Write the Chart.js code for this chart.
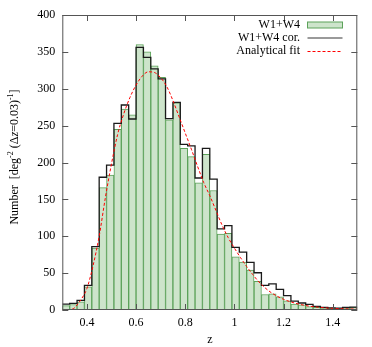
<!DOCTYPE html>
<html><head><meta charset="utf-8">
<script src="https://cdn.jsdelivr.net/npm/chart.js@4.4.0/dist/chart.umd.min.js"></script>
<style>html,body{margin:0;padding:0;background:#fff;}#wrap{width:372px;height:347px;}</style>
</head><body><div id="wrap"><canvas id="c" width="372" height="347"></canvas></div>
<script>
// ---- data ----
const binLeftEdges = [0.30,0.33,0.36,0.39,0.42,0.45,0.48,0.51,0.54,0.57,
  0.60,0.63,0.66,0.69,0.72,0.75,0.78,0.81,0.84,0.87,
  0.90,0.93,0.96,0.99,1.02,1.05,1.08,1.11,1.14,1.17,
  1.20,1.23,1.26,1.29,1.32,1.35,1.38,1.41,1.44,1.47];
const binWidth = 0.03;
const w1w4 = [6,7.5,11,31.5,84,166,183,245,272.5,264.5,
  360,350,331,315.5,258,281,219.3,208,172.3,211,
  162,103,104,72,65,54,39,21,22,18,
  12.5,8,7,4.5,3.6,3,2.5,2,3,3.5];
const w1w4cor = [8,9,13,33.5,86,180,196.5,253,278,259,
  356,342.6,327,313.5,259.5,281.5,224.7,222.5,179,219.2,
  177.5,110,114.3,85,78.5,64.5,50.5,33.5,35.5,28,
  19.5,12,9.5,7.5,5,3.5,3,2.5,3.5,4];
const fitZ = [0.30,0.33,0.35,0.365,0.38,0.40,0.425,0.45,0.475,0.50,
  0.525,0.55,0.575,0.60,0.625,0.65,0.675,0.70,0.725,0.75,
  0.775,0.80,0.825,0.85,0.875,0.90,0.925,0.95,0.975,1.00,
  1.025,1.05,1.075,1.10,1.125,1.15,1.175,1.20,1.25,1.30,
  1.35,1.40,1.45,1.50];
const fitValues = [0,0.5,3,9,16,29,60,100,152,198,
  238,266,288,305,317,323,322,315,303,284,
  262,240,218,195,173,155,135,115,98,84,
  71,59,48,38,30,23.5,18.5,14.5,9,5.5,
  3.5,2.2,1.6,1.2];
const xTickValues = [0.4,0.6,0.8,1.0,1.2,1.4];
const yTickValues = [0,50,100,150,200,250,300,350,400];
const seriesNames = ['W1+W4','W1+W4 cor.','Analytical fit'];
const xTitle = 'z';
const yTitleParts = [
  {t:'Number  [deg', s:'n'}, {t:'-2', s:'sup'}, {t:' (\u0394', s:'n'},
  {t:'z', s:'i'}, {t:'=0.03)', s:'n'}, {t:'-1', s:'sup'}, {t:']', s:'n'}
];

const FONT = "'Liberation Serif','Times New Roman',serif";
const greenFill = '#cde4cb';
const greenEdge = '#5ca25a';

const barData = binLeftEdges.map((e,i)=>({x:e+binWidth/2, y:w1w4[i]}));
const stepData = binLeftEdges.map((e,i)=>({x:e, y:w1w4cor[i]}));
stepData.push({x:binLeftEdges[binLeftEdges.length-1]+binWidth, y:w1w4cor[w1w4cor.length-1]});
const fitData = fitZ.map((z,i)=>({x:z, y:fitValues[i]}));

const decor = {
  id:'decor',
  afterDraw(chart){
    const ctx = chart.ctx, a = chart.chartArea;
    const xs = chart.scales.x, ys = chart.scales.y;
    ctx.save();
    ctx.setLineDash([]);
    // frame
    ctx.strokeStyle = '#555'; ctx.lineWidth = 1;
    ctx.strokeRect(a.left+0.5, a.top+0.5, a.right-a.left-1, a.bottom-a.top-1);
    // inward ticks
    ctx.beginPath();
    yTickValues.forEach(v=>{
      const y = Math.round(ys.getPixelForValue(v))+0.5;
      ctx.moveTo(a.left, y); ctx.lineTo(a.left+6, y);
      ctx.moveTo(a.right, y); ctx.lineTo(a.right-6, y);
    });
    xTickValues.forEach(v=>{
      const x = Math.round(xs.getPixelForValue(v))+0.5;
      ctx.moveTo(x, a.bottom); ctx.lineTo(x, a.bottom-6);
      ctx.moveTo(x, a.top); ctx.lineTo(x, a.top+6);
    });
    ctx.stroke();
    // legend
    ctx.font = '12px '+FONT;
    ctx.fillStyle = '#000';
    ctx.textAlign = 'right'; ctx.textBaseline = 'middle';
    const rows = [25, 38, 51];
    const tx = 300, sx0 = 307.5, sx1 = 342.5;
    seriesNames.forEach((n,i)=>ctx.fillText(n, tx, rows[i]));
    ctx.fillStyle = greenFill; ctx.strokeStyle = greenEdge; ctx.lineWidth = 1;
    ctx.fillRect(sx0, rows[0]-3, sx1-sx0, 6);
    ctx.strokeRect(sx0, rows[0]-3, sx1-sx0, 6);
    ctx.beginPath(); ctx.strokeStyle = '#9a9a9a'; ctx.lineWidth = 2;
    ctx.moveTo(sx0, rows[1]); ctx.lineTo(sx1, rows[1]); ctx.stroke();
    ctx.beginPath(); ctx.strokeStyle = '#ff0000'; ctx.lineWidth = 1; ctx.setLineDash([3,2]);
    ctx.moveTo(sx0, rows[2]+0.5); ctx.lineTo(sx1, rows[2]+0.5); ctx.stroke();
    ctx.setLineDash([]);
    // y title
    ctx.translate(17.5, 157); ctx.rotate(-Math.PI/2);
    ctx.textAlign = 'left'; ctx.textBaseline = 'alphabetic'; ctx.fillStyle = '#000';
    const fontFor = s => s==='sup' ? '8px '+FONT : (s==='i' ? 'italic 12px '+FONT : '12px '+FONT);
    let total = 0;
    yTitleParts.forEach(p=>{ ctx.font = fontFor(p.s); total += ctx.measureText(p.t).width; });
    let x = -total/2;
    yTitleParts.forEach(p=>{
      ctx.font = fontFor(p.s);
      ctx.fillText(p.t, x, p.s==='sup' ? -5 : 0);
      x += ctx.measureText(p.t).width;
    });
    ctx.restore();
  }
};

new Chart(document.getElementById('c'), {
  type:'bar',
  data:{datasets:[
    {type:'bar', label:seriesNames[0], data:barData, backgroundColor:greenFill, borderColor:greenEdge,
     borderWidth:1, barPercentage:1, categoryPercentage:1, order:3},
    {type:'line', label:seriesNames[1], data:stepData, stepped:'before', borderColor:'#1a1a1a',
     borderWidth:1.3, pointRadius:0, fill:false, order:2},
    {type:'line', label:seriesNames[2], data:fitData, borderColor:'#ff0000', borderWidth:1,
     borderDash:[3,2], pointRadius:0, fill:false, cubicInterpolationMode:'monotone', order:1}
  ]},
  options:{
    responsive:false, animation:false, devicePixelRatio:1,
    layout:{padding:{left:0, right:14.7, top:15, bottom:0}},
    plugins:{legend:{display:false}, tooltip:{enabled:false}},
    scales:{
      x:{type:'linear', min:0.3, max:1.5, offset:false,
         grid:{display:false, drawTicks:false, offset:false}, border:{display:false},
         afterBuildTicks:s=>{s.ticks = xTickValues.map(v=>({value:v}));},
         afterFit:s=>{s.height = 37;},
         ticks:{font:{family:FONT, size:12}, color:'#000', padding:6, maxRotation:0,
                callback:v=>String(+Number(v).toFixed(2))},
         title:{display:true, text:xTitle, font:{family:FONT, size:12}, color:'#000', padding:{top:0,bottom:0}}},
      y:{type:'linear', min:0, max:400,
         grid:{display:false, drawTicks:false}, border:{display:false},
         afterBuildTicks:s=>{s.ticks = yTickValues.map(v=>({value:v}));},
         afterFit:s=>{s.width = 62.3;},
         ticks:{font:{family:FONT, size:12}, color:'#000', padding:7}}
    }
  },
  plugins:[decor]
});
</script></body></html>
